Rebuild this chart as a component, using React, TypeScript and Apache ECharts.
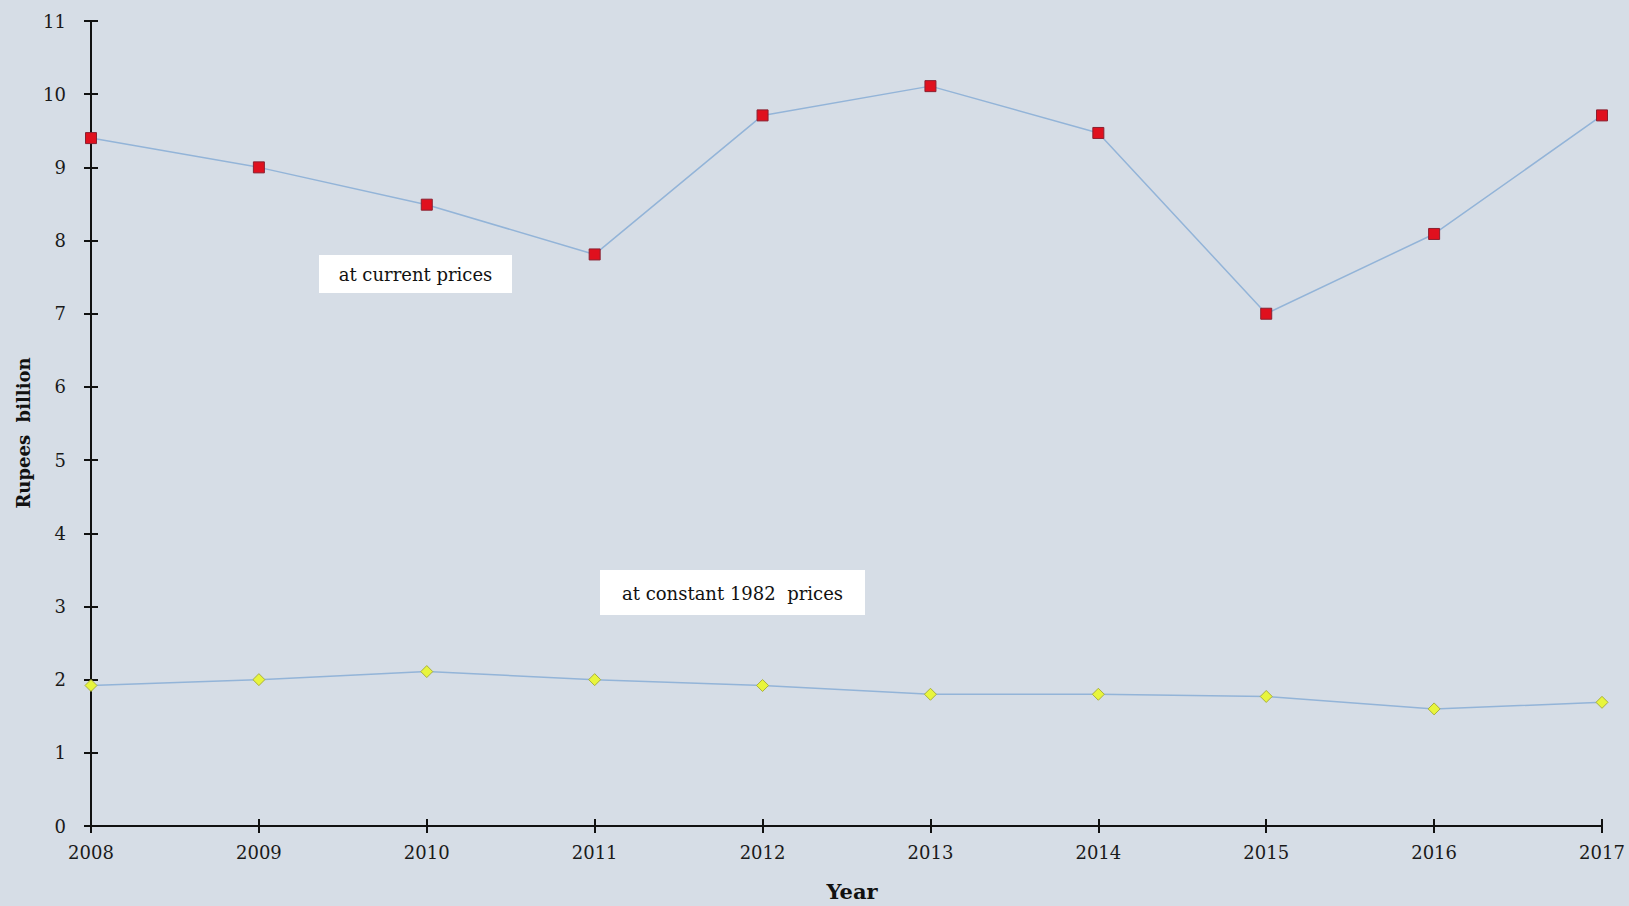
import React, { useEffect, useRef } from "react";
import * as echarts from "echarts";

const years = ["2008", "2009", "2010", "2011", "2012", "2013", "2014", "2015", "2016", "2017"];
const currentPrices = [9.4, 9.0, 8.49, 7.81, 9.71, 10.11, 9.47, 7.0, 8.09, 9.71];
const constantPrices = [1.92, 2.0, 2.11, 2.0, 1.92, 1.8, 1.8, 1.77, 1.6, 1.69];
const yMin = 0;
const yMax = 11;
const yStep = 1;

const FONT = "'DejaVu Serif', 'Liberation Serif', serif";

export default function App() {
  const ref = useRef<HTMLDivElement>(null);
  useEffect(() => {
    if (!ref.current) return;
    const chart = echarts.init(ref.current, null, { renderer: "svg" });
    const axisLine = { show: true, lineStyle: { color: "#111", width: 2 } };
    chart.setOption({
      animation: false,
      backgroundColor: "#d6dde6",
      grid: { left: 91, right: 27, top: 21, bottom: 80, containLabel: false },
      xAxis: [
        {
          type: "category",
          data: years,
          boundaryGap: false,
          axisLine,
          axisTick: { show: true, length: 7, lineStyle: { color: "#111", width: 2 } },
          axisLabel: { color: "#1a1a1a", fontFamily: FONT, fontSize: 18, margin: 17 },
          splitLine: { show: false },
        },
        {
          type: "category",
          data: years,
          boundaryGap: false,
          position: "bottom",
          axisLine: { show: false },
          axisTick: { show: true, inside: true, length: 7, lineStyle: { color: "#111", width: 2 } },
          axisLabel: { show: false },
          splitLine: { show: false },
        },
      ],
      yAxis: [
        {
          type: "value",
          min: yMin,
          max: yMax,
          interval: yStep,
          axisLine,
          axisTick: { show: true, length: 7, lineStyle: { color: "#111", width: 2 } },
          axisLabel: { color: "#1a1a1a", fontFamily: FONT, fontSize: 18, margin: 25 },
          splitLine: { show: false },
        },
        {
          type: "value",
          min: yMin,
          max: yMax,
          interval: yStep,
          position: "left",
          axisLine: { show: false },
          axisTick: { show: true, inside: true, length: 7, lineStyle: { color: "#111", width: 2 } },
          axisLabel: { show: false },
          splitLine: { show: false },
        },
      ],
      series: [
        {
          name: "at current prices",
          type: "line",
          data: currentPrices,
          symbol: "rect",
          symbolSize: 11,
          lineStyle: { color: "#93b4d8", width: 1.5 },
          itemStyle: { color: "#e0101e", borderColor: "#8a2030", borderWidth: 1 },
          z: 3,
        },
        {
          name: "at constant 1982 prices",
          type: "line",
          data: constantPrices,
          symbol: "diamond",
          symbolSize: 12,
          lineStyle: { color: "#93b4d8", width: 1.5 },
          itemStyle: { color: "#e8f53c", borderColor: "#a9b040", borderWidth: 1 },
          z: 3,
        },
      ],
      graphic: [
        {
          type: "text",
          x: 852,
          y: 891,
          style: {
            text: "Year",
            fill: "#111",
            font: `bold 21px ${FONT}`,
            align: "center",
            verticalAlign: "middle",
          },
        },
        {
          type: "text",
          x: 23,
          y: 433,
          rotation: Math.PI / 2,
          style: {
            text: "Rupees  billion",
            fill: "#111",
            font: `bold 18px ${FONT}`,
            align: "center",
            verticalAlign: "middle",
          },
        },
        {
          type: "group",
          left: 319,
          top: 255,
          children: [
            { type: "rect", shape: { x: 0, y: 0, width: 193, height: 38 }, style: { fill: "#ffffff" } },
            {
              type: "text",
              x: 96.5,
              y: 19,
              style: {
                text: "at current prices",
                fill: "#111",
                font: `18px ${FONT}`,
                align: "center",
                verticalAlign: "middle",
              },
            },
          ],
        },
        {
          type: "group",
          left: 600,
          top: 570,
          children: [
            { type: "rect", shape: { x: 0, y: 0, width: 265, height: 45 }, style: { fill: "#ffffff" } },
            {
              type: "text",
              x: 132.5,
              y: 23,
              style: {
                text: "at constant 1982  prices",
                fill: "#111",
                font: `18px ${FONT}`,
                align: "center",
                verticalAlign: "middle",
              },
            },
          ],
        },
      ],
    });
    return () => chart.dispose();
  }, []);
  return (
    <div
      ref={ref}
      style={{ position: "absolute", left: 0, top: 0, width: 1629, height: 906 }}
    />
  );
}
